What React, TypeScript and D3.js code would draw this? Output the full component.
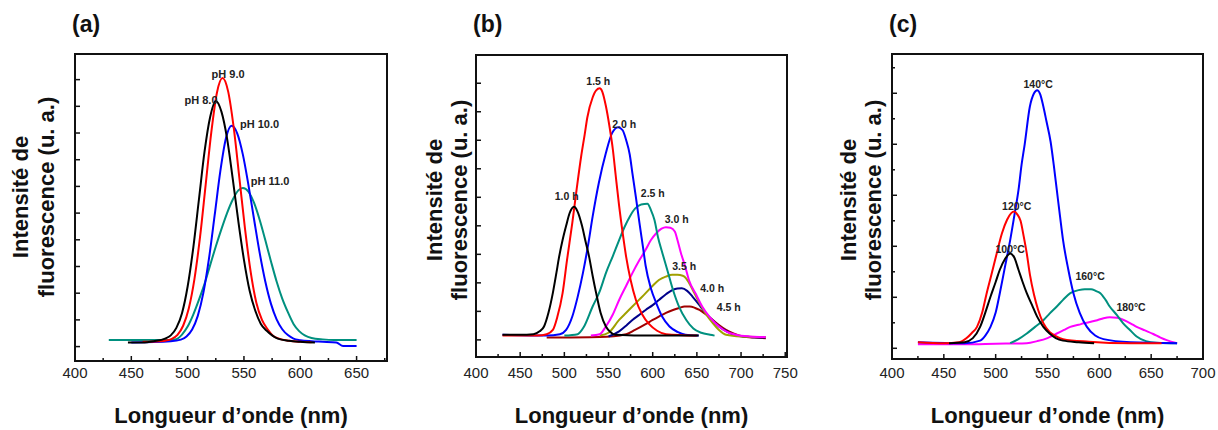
import React from "react";
import * as d3 from "d3";

type Pt = [number, number];

// ---------- Panel (a): pH ----------
const xTicksA = [400, 450, 500, 550, 600, 650];
const phA8: Pt[] = [[447,0.15],[460,0.15],[470,0.2],[480,0.3],[485,0.42],[490,0.7],[495,1.25],[500,2.25],[505,3.7],[510,5.5],[515,7.3],[520,8.6],[525,9.2],[530,8.8],[535,7.8],[540,6.3],[545,4.7],[550,3.25],[555,2.1],[560,1.35],[565,0.85],[570,0.6],[575,0.42],[580,0.3],[590,0.22],[600,0.18],[613,0.15]];
const phA9: Pt[] = [[460,0.18],[475,0.2],[480,0.22],[486,0.29],[491,0.44],[496,0.78],[501,1.43],[506,2.52],[511,4.1],[516,6.06],[521,8.02],[526,9.51],[531,10.06],[536,9.55],[541,8.17],[546,6.29],[551,4.39],[556,2.79],[561,1.64],[566,1.0],[571,0.65],[576,0.4],[581,0.3],[590,0.22],[600,0.18],[610,0.16]];
const phA10: Pt[] = [[450,0.15],[485,0.2],[494,0.26],[499,0.38],[504,0.64],[509,1.15],[514,2.02],[519,3.31],[524,4.92],[529,6.56],[534,7.8],[539,8.27],[544,7.99],[549,7.2],[554,6.05],[559,4.76],[564,3.5],[569,2.43],[574,1.6],[579,1.02],[584,0.65],[589,0.43],[594,0.3],[600,0.24],[610,0.2],[620,0.18],[632,0.15],[638,0.02],[650,0.02]];
const phA11: Pt[] = [[430,0.25],[460,0.25],[485,0.25],[490,0.28],[495,0.45],[500,0.75],[505,1.2],[510,1.75],[515,2.35],[520,3.05],[525,3.75],[530,4.4],[535,5.0],[540,5.5],[545,5.85],[549,5.94],[554,5.8],[559,5.38],[564,4.74],[569,3.98],[574,3.19],[579,2.44],[584,1.8],[589,1.29],[594,0.85],[599,0.58],[604,0.42],[610,0.32],[620,0.27],[630,0.25],[650,0.25]];
const labelsA = [
  { text: "pH 8.0", x: 511.9, y: 9.24 },
  { text: "pH 9.0", x: 535.9, y: 10.21 },
  { text: "pH 10.0", x: 563.9, y: 8.34 },
  { text: "pH 11.0", x: 573.2, y: 6.21 },
];

// ---------- Panel (b): time ----------
const xTicksB = [400, 450, 500, 550, 600, 650, 700, 750];
const tB10: Pt[] = [[430,0.18],[450,0.18],[465,0.2],[472,0.3],[477,0.47],[482,0.95],[487,1.65],[491,2.35],[494,2.9],[498,3.5],[502,4.0],[506,4.45],[511,4.67],[515,4.5],[520,4.0],[524,3.45],[528,2.92],[532,2.25],[536,1.64],[541,0.95],[547,0.47],[552,0.28],[558,0.18],[600,0.15],[652,0.15]];
const tB15: Pt[] = [[430,0.15],[470,0.15],[480,0.2],[487,0.35],[492,0.8],[498,1.64],[503,2.8],[509,4.1],[514,5.3],[519,6.43],[523,7.2],[526,7.8],[532,8.5],[536,8.75],[540,8.82],[543,8.7],[547,8.2],[551,7.5],[555,6.65],[558,5.8],[562,4.7],[566,3.75],[570,2.9],[575,2.1],[581,1.4],[588,0.9],[596,0.55],[605,0.32],[615,0.2],[650,0.15]];
const tB20: Pt[] = [[430,0.18],[480,0.15],[495,0.2],[502,0.35],[509,0.82],[515,1.5],[521,2.34],[527,3.35],[532,4.32],[539,5.5],[547,6.55],[554,7.25],[561,7.46],[566,7.35],[570,7.0],[574,6.5],[577,5.85],[581,5.0],[585,4.1],[589,3.25],[592,2.6],[598,1.8],[604,1.29],[611,0.8],[619,0.47],[628,0.28],[637,0.18],[652,0.15]];
const tB25: Pt[] = [[500,0.15],[515,0.2],[522,0.45],[532,1.17],[540,1.7],[547,2.34],[555,2.95],[562,3.5],[568,3.95],[574,4.32],[580,4.6],[587,4.75],[594,4.77],[598,4.55],[602,4.2],[606,3.6],[611,3.04],[617,2.4],[623,1.75],[630,1.15],[638,0.7],[646,0.4],[655,0.25],[665,0.18],[670,0.15]];
const tB30: Pt[] = [[530,0.15],[540,0.2],[547,0.47],[555,0.9],[562,1.4],[570,1.9],[577,2.34],[585,2.8],[592,3.16],[598,3.5],[604,3.74],[610,3.9],[615,3.95],[620,3.93],[625,3.8],[628,3.5],[632,3.04],[637,2.55],[641,2.1],[649,1.6],[656,1.17],[665,0.78],[675,0.47],[684,0.28],[694,0.18],[710,0.12],[728,0.1]];
const tB35: Pt[] = [[540,0.15],[550,0.25],[562,0.7],[570,0.95],[577,1.17],[585,1.42],[592,1.64],[600,1.9],[607,2.1],[615,2.22],[622,2.28],[628,2.28],[634,2.25],[638,2.15],[641,2.0],[647,1.65],[653,1.29],[660,0.92],[668,0.59],[675,0.35],[683,0.18],[700,0.12],[728,0.1]];
const tB40: Pt[] = [[550,0.12],[562,0.3],[570,0.5],[577,0.7],[585,0.88],[592,1.05],[600,1.22],[607,1.4],[615,1.6],[623,1.76],[628,1.8],[633,1.81],[639,1.72],[645,1.52],[652,1.25],[660,0.94],[668,0.68],[675,0.47],[685,0.28],[694,0.15],[710,0.1],[728,0.08]];
const tB45: Pt[] = [[480,0.08],[540,0.1],[570,0.2],[580,0.35],[592,0.55],[600,0.7],[607,0.82],[615,0.95],[623,1.05],[630,1.12],[636,1.17],[642,1.17],[648,1.12],[653,1.05],[660,0.9],[668,0.7],[675,0.52],[683,0.35],[692,0.22],[702,0.12],[715,0.08],[728,0.06]];
const labelsB = [
  { text: "1.0 h", x: 502.7, y: 5.05 },
  { text: "1.5 h", x: 538.4, y: 9.08 },
  { text: "2.0 h", x: 567.8, y: 7.57 },
  { text: "2.5 h", x: 600.1, y: 5.15 },
  { text: "3.0 h", x: 627.2, y: 4.24 },
  { text: "3.5 h", x: 635.7, y: 2.59 },
  { text: "4.0 h", x: 667.4, y: 1.82 },
  { text: "4.5 h", x: 686.1, y: 1.16 },
];

// ---------- Panel (c): temperature ----------
const xTicksC = [400, 450, 500, 550, 600, 650, 700];
const tC100: Pt[] = [[455,0.1],[470,0.12],[478,0.2],[485,0.42],[490,0.7],[495,1.01],[500,1.3],[504,1.54],[509,1.75],[514,1.86],[518,1.78],[522,1.54],[526,1.3],[530,1.08],[535,0.85],[540,0.62],[546,0.42],[552,0.29],[558,0.2],[565,0.15],[580,0.12],[595,0.1]];
const tC120: Pt[] = [[425,0.12],[450,0.1],[465,0.12],[472,0.2],[477,0.3],[482,0.42],[487,0.7],[491,1.05],[496,1.45],[501,1.86],[506,2.25],[511,2.52],[515,2.65],[518,2.68],[521,2.62],[524,2.5],[527,2.2],[530,1.86],[533,1.45],[537,1.05],[541,0.75],[546,0.49],[552,0.32],[558,0.24],[565,0.18],[590,0.13],[630,0.1],[660,0.1]];
const tC140: Pt[] = [[425,0.12],[470,0.1],[485,0.15],[490,0.25],[495,0.42],[500,0.7],[504,1.08],[509,1.6],[514,2.12],[518,2.6],[522,3.1],[525,3.6],[528,4.0],[533,4.74],[537,5.0],[540,5.06],[543,4.98],[546,4.74],[549,4.45],[553,4.05],[556,3.6],[559,3.1],[562,2.6],[565,2.12],[570,1.55],[575,1.08],[581,0.7],[588,0.42],[596,0.25],[604,0.18],[630,0.12],[675,0.1]];
const tC160: Pt[] = [[514,0.1],[522,0.18],[530,0.29],[538,0.42],[546,0.55],[552,0.68],[559,0.82],[565,0.95],[572,1.08],[580,1.14],[586,1.16],[592,1.16],[597,1.12],[601,1.08],[606,0.95],[610,0.82],[617,0.65],[623,0.49],[630,0.35],[636,0.23],[645,0.14],[655,0.11],[675,0.1]];
const tC180: Pt[] = [[425,0.08],[470,0.08],[500,0.09],[530,0.1],[540,0.14],[550,0.2],[559,0.29],[566,0.36],[572,0.42],[580,0.46],[585,0.49],[592,0.52],[598,0.55],[604,0.59],[610,0.61],[617,0.6],[623,0.56],[630,0.49],[636,0.42],[644,0.35],[652,0.28],[659,0.21],[665,0.16],[675,0.1]];
const labelsC = [
  { text: "140°C", x: 541, y: 5.18 },
  { text: "120°C", x: 520.3, y: 2.79 },
  { text: "100°C", x: 514, y: 1.95 },
  { text: "160°C", x: 591.1, y: 1.42 },
  { text: "180°C", x: 630.6, y: 0.81 },
];

const C = {
  black: "#000000",
  red: "#ff0000",
  blue: "#0000ff",
  teal: "#00907f",
  magenta: "#ff00ff",
  olive: "#a0a000",
  navy: "#00008b",
  darkred: "#a00000",
};

type Series = { data: Pt[]; color: string };
type PanelProps = {
  title: string;
  left: number; top: number; right: number; bottom: number;
  xDomain: [number, number];
  yDomain: [number, number];
  xTicks: number[];
  yTicks: number[];
  yMinor?: number[];
  series: Series[];
  labels: { text: string; x: number; y: number }[];
  labelSize: number;
  yLab1: number; yLab2: number; yLabCy: number;
};

const FONT = "'Liberation Sans', Arial, Helvetica, sans-serif";

function Panel(p: PanelProps) {
  const x = d3.scaleLinear().domain(p.xDomain).range([p.left, p.right]);
  const y = d3.scaleLinear().domain(p.yDomain).range([p.bottom, p.top]);
  const line = d3.line<Pt>().x(d => x(d[0])).y(d => y(d[1])).curve(d3.curveMonotoneX);
  const minorX: number[] = [];
  for (let v = p.xDomain[0]; v <= p.xDomain[1] + 0.01; v += 25) minorX.push(v);
  const cx = (p.left + p.right) / 2;
  return (
    <g>
      <text x={p.left - 3} y={32} fontFamily={FONT} fontWeight="bold" fontSize={23} fill="#111">{p.title}</text>
      <defs>
        <clipPath id={"clip" + p.title}>
          <rect x={p.left} y={p.top} width={p.right - p.left} height={p.bottom - p.top} />
        </clipPath>
      </defs>
      <g clipPath={`url(#clip${p.title})`}>
        {p.series.map((s, i) => (
          <path key={i} d={line(s.data) || ""} fill="none" stroke={s.color} strokeWidth={2} strokeLinejoin="round" />
        ))}
      </g>
      {p.labels.map((l, i) => (
        <text key={i} x={x(l.x)} y={y(l.y)} textAnchor="middle" dominantBaseline="central" fontFamily={FONT} fontWeight="bold" fontSize={p.labelSize} fill="#222">{l.text}</text>
      ))}
      <rect x={p.left} y={p.top} width={p.right - p.left} height={p.bottom - p.top} fill="none" stroke="#111" strokeWidth={2} />
      {minorX.map((v, i) => (
        <line key={i} x1={x(v)} x2={x(v)} y1={p.bottom} y2={p.bottom - (v % 50 === 0 ? 5 : 3)} stroke="#111" strokeWidth={1.5} />
      ))}
      {p.yTicks.map((v, i) => (
        <line key={i} x1={p.left} x2={p.left + 5} y1={y(v)} y2={y(v)} stroke="#111" strokeWidth={1.5} />
      ))}
      {(p.yMinor || []).map((v, i) => (
        <line key={i} x1={p.left} x2={p.left + 3} y1={y(v)} y2={y(v)} stroke="#111" strokeWidth={1.5} />
      ))}
      {p.xTicks.map((v, i) => (
        <text key={i} x={x(v)} y={378} textAnchor="middle" fontFamily={FONT} fontSize={15} fill="#222">{v}</text>
      ))}
      <text x={cx} y={423} textAnchor="middle" fontFamily={FONT} fontWeight="bold" fontSize={22} fill="#111">Longueur d’onde (nm)</text>
      <text transform={`translate(${p.yLab1},${p.yLabCy}) rotate(-90)`} textAnchor="middle" dominantBaseline="central" fontFamily={FONT} fontWeight="bold" fontSize={22} fill="#111">Intensité de</text>
      <text transform={`translate(${p.yLab2},${p.yLabCy}) rotate(-90)`} textAnchor="middle" dominantBaseline="central" fontFamily={FONT} fontWeight="bold" fontSize={22} fill="#111">fluorescence (u. a.)</text>
    </g>
  );
}

export default function App() {
  return (
    <svg width={1218} height={430} style={{ position: "absolute", left: 0, top: 0, background: "#fff" }}>
      <rect x={0} y={0} width={1218} height={430} fill="#fff" />
      <Panel
        title="(a)" left={75} top={54} right={387} bottom={361}
        xDomain={[400, 677]} yDomain={[-0.54, 10.96]}
        xTicks={xTicksA} yTicks={d3.range(0, 11)}
        series={[
          { data: phA11, color: C.teal },
          { data: phA10, color: C.blue },
          { data: phA9, color: C.red },
          { data: phA8, color: C.black },
        ]}
        labels={labelsA} labelSize={11}
        yLab1={20} yLab2={46} yLabCy={197}
      />
      <Panel
        title="(b)" left={476} top={55} right={787} bottom={357}
        xDomain={[400, 752]} yDomain={[-0.6, 9.99]}
        xTicks={xTicksB} yTicks={d3.range(0, 10)}
        series={[
          { data: tB45, color: C.darkred },
          { data: tB40, color: C.navy },
          { data: tB35, color: C.olive },
          { data: tB30, color: C.magenta },
          { data: tB25, color: C.teal },
          { data: tB20, color: C.blue },
          { data: tB15, color: C.red },
          { data: tB10, color: C.black },
        ]}
        labels={labelsB} labelSize={10.5}
        yLab1={434} yLab2={459} yLabCy={200}
      />
      <Panel
        title="(c)" left={892} top={54} right={1203} bottom={359}
        xDomain={[400, 700]} yDomain={[-0.21, 5.77]}
        xTicks={xTicksC} yTicks={d3.range(0, 6)} yMinor={[0.5, 1.5, 2.5, 3.5, 4.5, 5.5]}
        series={[
          { data: tC180, color: C.magenta },
          { data: tC160, color: C.teal },
          { data: tC140, color: C.blue },
          { data: tC120, color: C.red },
          { data: tC100, color: C.black },
        ]}
        labels={labelsC} labelSize={10.5}
        yLab1={848} yLab2={873} yLabCy={200}
      />
    </svg>
  );
}
